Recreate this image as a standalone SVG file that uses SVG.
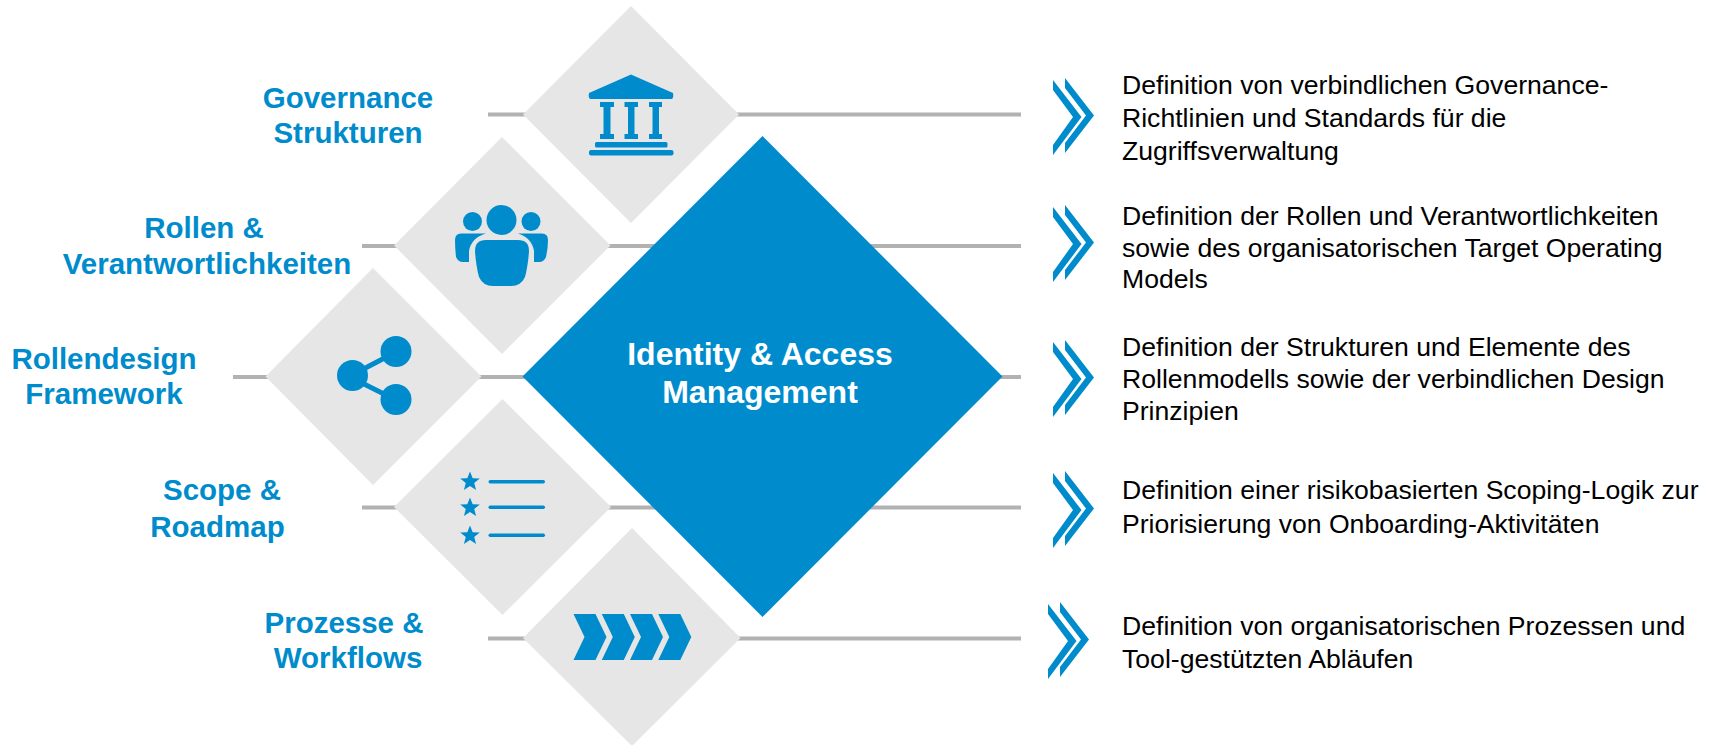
<svg xmlns="http://www.w3.org/2000/svg" width="1714" height="745" viewBox="0 0 1714 745">
<style>
.ln{stroke:#b2b2b2;stroke-width:4;fill:none}
.d{fill:#e6e6e6}
.b{fill:#008ccc}
.h{font:bold 29.5px "Liberation Sans",Arial,sans-serif;fill:#008ccc;text-anchor:middle}
.c{font:bold 32px "Liberation Sans",Arial,sans-serif;fill:#fff;text-anchor:middle}
.t{font:26.6px "Liberation Sans",Arial,sans-serif;fill:#000}
</style>
<defs>
<path id="chev" class="b" d="M0 0L28.500 37L0 75V65L20 37L0 10ZM12 -2L41 35.500L12 73V63L33 35.500L12 8Z"/>
<path id="star" class="b" d="M0 -10L2.700 -3.300L9.800 -3L4.200 1.400L6.100 8.500L0 4.500L-6.100 8.500L-4.200 1.400L-9.800 -3L-2.700 -3.300Z"/>
<path id="arr" class="b" d="M0 0H22L33 23L22 46H0L11 23Z"/>
</defs>
<g id="connectors">
<path class="ln" d="M488 114.500H1021M362 246H1021M233 377H1021M362 507.500H1021M488 638.500H1021"/>
</g>
<g id="n-governance">
<path class="d" d="M631 6L739 114.500L631 223L523 114.500Z"/>
<path class="b" d="M631 74.500L673 93Q674 99 671 99H591Q588 99 589 93Z"/>
<path class="b" d="M600 102H614V107H610.500V134H614V139H600V134H603.500V107H600ZM624.500 102H638V107H634.500V134H638V139H624.500V134H628V107H624.500ZM649 102H662V107H659V134H662V139H649V134H652.500V107H649Z"/>
<rect class="b" x="595" y="142" width="72.500" height="5.500" rx="1.500"/>
<rect class="b" x="589" y="150" width="84.500" height="5.500" rx="2"/>
<text class="h" x="348" y="108">Governance</text><text class="h" x="348" y="143">Strukturen</text>
</g>
<g id="n-rollen">
<path class="d" d="M502 137L610.500 245.500L502 354L394 245.500Z"/>
<circle class="b" cx="501.500" cy="220" r="15"/>
<circle class="b" cx="472.500" cy="221.500" r="9.500"/>
<circle class="b" cx="531" cy="221.500" r="9.500"/>
<path class="b" d="M486 240H518Q529 240 529 251Q528 266 525 277Q521 286 511 286H493Q483 286 479 277Q476 266 475 251Q475 240 486 240Z"/>
<path class="b" d="M461 233.500H486Q471 238 469 251V262H463Q458 262 456 257Q455 248 455 240Q455 233.500 461 233.500ZM518 233.500H542Q548 233.500 548 240Q548 248 546 257Q544 262 539 262H534V251Q532 238 518 233.500Z"/>
<text class="h" x="204" y="238">Rollen &amp;</text><text class="h" x="207" y="274">Verantwortlichkeiten</text>
</g>
<g id="n-design">
<path class="d" d="M373 268L481.500 376.500L373 485L265.500 376.500Z"/>
<path d="M352 375L396 352M352 378L396 400" stroke="#008ccc" stroke-width="5" fill="none"/>
<circle class="b" cx="352.500" cy="375.500" r="15.500"/>
<circle class="b" cx="396" cy="351.500" r="15.500"/>
<circle class="b" cx="396" cy="399.500" r="15.500"/>
<text class="h" x="104" y="369">Rollendesign</text><text class="h" x="104" y="404">Framework</text>
</g>
<g id="n-scope">
<path class="d" d="M502.500 399L611 507L502.500 615L394 507Z"/>
<use href="#star" x="470" y="481.500"/><use href="#star" x="470" y="507.500"/><use href="#star" x="470" y="535.500"/>
<rect class="b" x="488.500" y="480" width="56.500" height="3.500" rx="1.700"/>
<rect class="b" x="488.500" y="505.500" width="56.500" height="3.500" rx="1.700"/>
<rect class="b" x="488.500" y="533.500" width="56.500" height="3.500" rx="1.700"/>
<text class="h" x="222" y="500">Scope &amp;</text><text class="h" x="217.500" y="537">Roadmap</text>
</g>
<g id="n-prozesse">
<path class="d" d="M632 528L740.500 638L632 746L523 638Z"/>
<use href="#arr" x="573.500" y="614"/><use href="#arr" x="601.800" y="614"/><use href="#arr" x="630" y="614"/><use href="#arr" x="658.300" y="614"/>
<text class="h" x="344" y="633">Prozesse &amp;</text><text class="h" x="348" y="668">Workflows</text>
</g>
<g id="n-center">
<path class="b" d="M762.500 136L1002.500 376.500L762.500 617L522.500 376.500Z"/>
<text class="c" x="760" y="365">Identity &amp; Access</text><text class="c" x="760" y="403">Management</text>
</g>
<g id="d1"><use href="#chev" x="1053" y="80"/>
<text class="t"><tspan x="1122" y="94">Definition von verbindlichen Governance-</tspan><tspan x="1122" y="127">Richtlinien und Standards für die</tspan><tspan x="1122" y="160">Zugriffsverwaltung</tspan></text></g>
<g id="d2"><use href="#chev" x="1053" y="207"/>
<text class="t"><tspan x="1122" y="225">Definition der Rollen und Verantwortlichkeiten</tspan><tspan x="1122" y="257">sowie des organisatorischen Target Operating</tspan><tspan x="1122" y="288">Models</tspan></text></g>
<g id="d3"><use href="#chev" x="1053" y="342"/>
<text class="t"><tspan x="1122" y="356">Definition der Strukturen und Elemente des</tspan><tspan x="1122" y="388">Rollenmodells sowie der verbindlichen Design</tspan><tspan x="1122" y="420">Prinzipien</tspan></text></g>
<g id="d4"><use href="#chev" x="1053" y="473"/>
<text class="t"><tspan x="1122" y="499">Definition einer risikobasierten Scoping-Logik zur</tspan><tspan x="1122" y="533">Priorisierung von Onboarding-Aktivitäten</tspan></text></g>
<g id="d5"><use href="#chev" x="1048" y="604"/>
<text class="t"><tspan x="1122" y="635">Definition von organisatorischen Prozessen und</tspan><tspan x="1122" y="668">Tool-gestützten Abläufen</tspan></text></g>
</svg>
